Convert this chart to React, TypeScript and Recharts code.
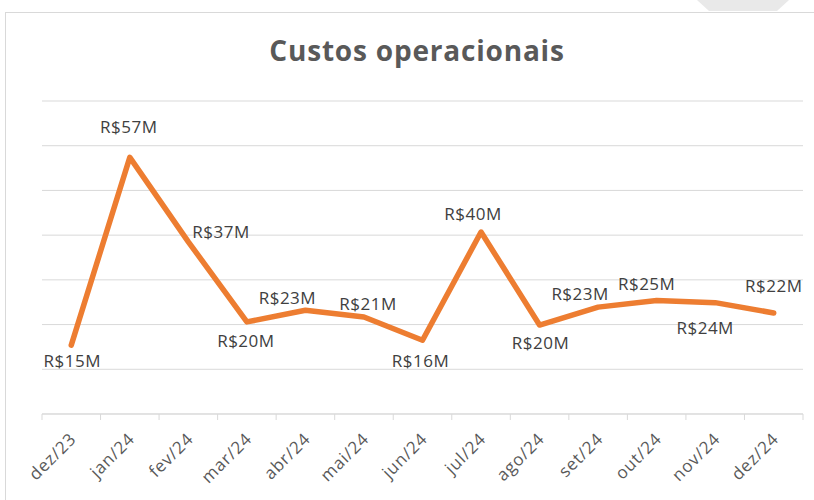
import React from 'react';
import { LineChart, Line, XAxis, YAxis, CartesianGrid } from 'recharts';

// Monthly operating costs, in R$ millions
const months = ['dez/23', 'jan/24', 'fev/24', 'mar/24', 'abr/24', 'mai/24', 'jun/24', 'jul/24', 'ago/24', 'set/24', 'out/24', 'nov/24', 'dez/24'];
const costs = [15.4, 57.4, 38.5, 20.6, 23.2, 21.7, 16.5, 40.7, 19.9, 23.9, 25.4, 24.9, 22.6];
const costLabels = ['R$15M', 'R$57M', 'R$37M', 'R$20M', 'R$23M', 'R$21M', 'R$16M', 'R$40M', 'R$20M', 'R$23M', 'R$25M', 'R$24M', 'R$22M'];
const yTicks = [0, 10, 20, 30, 40, 50, 60, 70];

const data = months.map((m, i) => ({ month: m, cost: costs[i] }));

// label placement relative to the point (Excel positioned them by hand)
const labelShift: [number, number][] = [
  [1, 22], [-1, -24], [4, -4], [-1, 25], [-18, -6], [4, -7], [-2, 27],
  [-8, -12], [1, 24], [-18, -7], [-10, -10], [-10, 31], [0, -21],
];

const FONT = '"Open Sans", "Noto Sans", sans-serif';
const GRID = '#d9d9d9';
const BAND = (803 - 42) / 13;

const renderLabel = (props: any) => {
  const { x, y, index } = props;
  const [dx, dy] = labelShift[index];
  return (
    <text
      key={`lbl-${index}`}
      x={x + dx}
      y={y + dy}
      textAnchor={index === 2 ? 'start' : 'middle'}
      fontFamily={FONT}
      fontSize={17}
      letterSpacing={0.5}
      fill="#404040"
    >
      {costLabels[index]}
    </text>
  );
};

const MonthTick = (props: any) => {
  const { x, y, payload, index } = props;
  const half = BAND / 2;
  return (
    <g>
      <line x1={x - half} y1={y - 8} x2={x - half} y2={y - 2} stroke={GRID} />
      {index === months.length - 1 && (
        <line x1={x + half} y1={y - 8} x2={x + half} y2={y - 2} stroke={GRID} />
      )}
      <text
        x={x + 6}
        y={y + 18}
        transform={`rotate(-45, ${x + 6}, ${y + 18})`}
        textAnchor="end"
        fontFamily={FONT}
        fontSize={17}
        letterSpacing={0.8}
        fill="#595959"
      >
        {payload.value}
      </text>
    </g>
  );
};

export default function App() {
  return (
    <div style={{ position: 'absolute', left: 0, top: 0, width: 814, height: 500, background: '#fff', overflow: 'hidden' }}>
      <div style={{ position: 'absolute', left: 5, top: 12, width: 820, height: 500, borderTop: `1px solid ${GRID}`, borderLeft: `1px solid ${GRID}` }} />
      <svg style={{ position: 'absolute', left: 697, top: 0 }} width={92} height={12}>
        <polygon points="0,0 92,0 80,11 12,11" fill="#e9e9e9" />
      </svg>
      <div
        style={{
          position: 'absolute', left: 0, width: 834, top: 33, textAlign: 'center',
          fontFamily: FONT, fontWeight: 700, fontSize: 28, letterSpacing: 0.8, lineHeight: '34px', color: '#595959',
        }}
      >
        Custos operacionais
      </div>
      <div style={{ position: 'absolute', left: 0, top: 0 }}>
        <LineChart width={814} height={500} data={data} margin={{ top: 101, right: 11, bottom: 0, left: 42 }}>
          <CartesianGrid vertical={false} stroke={GRID} strokeWidth={1} />
          <YAxis hide domain={[0, 70]} ticks={yTicks} width={0} />
          <XAxis
            dataKey="month"
            interval={0}
            padding={{ left: BAND / 2, right: BAND / 2 }}
            axisLine={{ stroke: GRID }}
            tickLine={false}
            tick={<MonthTick />}
            height={86}
          />
          <Line
            type="linear"
            dataKey="cost"
            stroke="#ED7D31"
            strokeWidth={5.5}
            strokeLinecap="round"
            strokeLinejoin="round"
            dot={false}
            label={renderLabel}
            isAnimationActive={false}
          />
        </LineChart>
      </div>
    </div>
  );
}
